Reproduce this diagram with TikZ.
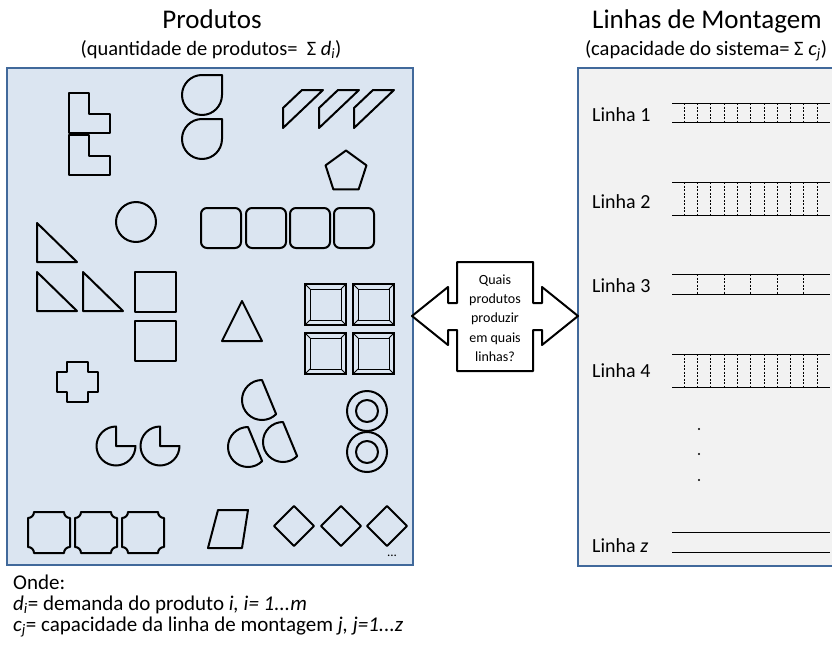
\documentclass[tikz,border=0pt]{standalone}
\usepackage{fontspec}
\setmainfont{Carlito}
\definecolor{fundoprod}{RGB}{219,229,241}
\definecolor{fundolinha}{RGB}{242,242,242}
\definecolor{bordapainel}{RGB}{65,105,155}
\begin{document}
\begin{tikzpicture}[x=1pt,y=-1pt,
    peca/.style={line width=2pt,line join=round},
    trilho/.style={line width=0.8pt},
    divisao/.style={line width=0.6pt,dash pattern=on 2pt off 1.5pt},
    painel/.style={line width=2pt,draw=bordapainel},
    titulo/.style={font=\fontsize{27}{32}\selectfont,anchor=base},
    subtitulo/.style={font=\fontsize{20.5}{24}\selectfont,anchor=base},
    rotulo/.style={font=\fontsize{20}{24}\selectfont,anchor=base west,inner sep=0pt},
    legenda/.style={font=\fontsize{21}{25}\selectfont,anchor=base west,inner sep=0pt}]
    \clip (0,0) rectangle (832,645);
    % Draw panels
    \draw[painel,fill=fundoprod] (7,68) rectangle (413,565);
    \draw[painel,fill=fundolinha] (578,68) rectangle (850,566);
    % Titles
    \node[titulo] (tprod) at (212,28) {Produtos};
    \node[subtitulo] (sprod) at (211,55) {(quantidade de produtos=~~Σ \textit{d}\textsubscript{\textit{i}})};
    \node[titulo] (tlinha) at (707,28) {Linhas de Montagem};
    \node[subtitulo] (slinha) at (706,55) {(capacidade do sistema= Σ \textit{c}\textsubscript{\textit{j}})};
    % Products: L pieces
    \foreach \y in {93,135}
        \draw[peca] (69,\y) -- (89,\y) -- (89,\y+21) -- (110,\y+21) -- (110,\y+40) -- (69,\y+40) -- cycle;
    % Drops
    \foreach \y in {95,139}
        \draw[peca] (222,\y) arc (0:270:20) -- (222,\y-20) -- cycle;
    % Slanted pieces
    \foreach \x in {283,319,354}
        \draw[peca] (\x,128) -- (\x,108) -- (\x+19,90) -- (\x+40,90) -- cycle;
    % Pentagon
    \draw[peca] (346,172) +(270:21.5) -- +(342:21.5) -- +(54:21.5) -- +(126:21.5) -- +(198:21.5) -- cycle;
    % Circle
    \draw[peca] (136,222) circle (20);
    % Rounded boxes
    \foreach \x in {201,246,290,334}
        \draw[peca,rounded corners=6pt] (\x,208) rectangle +(40,40);
    % Right triangles
    \foreach \x/\y in {37/223,37/272,83/272}
        \draw[peca] (\x,\y) -- (\x,\y+39) -- (\x+40,\y+39) -- cycle;
    % Squares
    \foreach \y in {272,321}
        \draw[peca] (135,\y) rectangle +(41,40);
    % Triangle
    \draw[peca] (242,301) -- (262,341) -- (222,341) -- cycle;
    % Framed squares
    \foreach \x/\y in {305/284,353/284,305/333,353/333} {
        \draw[line width=2.1pt] (\x,\y) rectangle +(41,41);
        \draw[line width=1pt] ({\x+5},{\y+5}) rectangle +(31,31);
        \draw[line width=1pt] (\x,\y) -- +(5,5) ({\x+41},\y) -- +(-5,5)
            (\x,{\y+41}) -- +(5,-5) ({\x+41},{\y+41}) -- +(-5,-5);
    }
    % Cross
    \draw[peca] (67,362) -- (88,362) -- (88,372) -- (98,372) -- (98,392) -- (88,392) -- (88,402)
        -- (67,402) -- (67,392) -- (57,392) -- (57,372) -- (67,372) -- cycle;
    % Half discs
    \foreach \x/\y in {262/400,248/447,283/442}
        \draw[peca] (\x,\y) ++(45:20) arc (45:270:20) -- cycle;
    % Rings
    \foreach \y in {411,452} {
        \draw[peca] (367,\y) circle (20);
        \draw[peca] (367,\y) circle (11);
    }
    % Cut circles
    \foreach \x in {116,160}
        \draw[peca] (\x,446) -- (\x,426.5) arc (270:0:19.5) -- cycle;
    % Notched plates
    \foreach \x in {28,75,122}
        \draw[peca] (\x+6,512) -- (\x+36,512) arc (180:90:6) -- (\x+42,547) arc (270:180:6)
            -- (\x+6,553) arc (0:-90:6) -- (\x,518) arc (90:0:6) -- cycle;
    % Parallelogram
    \draw[peca] (218,510) -- (248,510) -- (242,548) -- (208,548) -- cycle;
    % Diamonds
    \foreach \x in {294,341,387}
        \draw[peca] (\x,506) -- (\x+20,526) -- (\x,546) -- (\x-20,526) -- cycle;
    \node[font=\fontsize{13}{15}\selectfont] (mais) at (392,556) {...};
    % Double arrow with question
    \draw[peca,fill=white] (412,316) -- (448,287) -- (448,303) -- (457,303) -- (457,262) -- (533,262)
        -- (533,303) -- (542,303) -- (542,287) -- (578,316) -- (542,345) -- (542,330) -- (533,330)
        -- (533,371) -- (457,371) -- (457,330) -- (448,330) -- (448,345) -- cycle;
    \node[font=\fontsize{14}{19.3}\selectfont,align=center] (pergunta) at (495,318)
        {Quais\\produtos\\produzir\\em quais\\linhas?};
    % Assembly lines
    \draw[trilho] (672,103) -- (830,103) (672,122) -- (830,122);
    \foreach \k in {0,...,10}
        \draw[divisao] ({684+13.3*\k},103) -- ({684+13.3*\k},122);
    \draw[trilho] (672,182) -- (830,182) (672,215) -- (830,215);
    \foreach \k in {0,...,10}
        \draw[divisao] ({684+13.3*\k},182) -- ({684+13.3*\k},215);
    \draw[trilho] (672,274) -- (830,274) (672,294) -- (830,294);
    \foreach \k in {1,3,5,7,9}
        \draw[divisao] ({684+13.3*\k},274) -- ({684+13.3*\k},294);
    \draw[trilho] (672,354) -- (830,354) (672,387) -- (830,387);
    \foreach \k in {0,...,10}
        \draw[divisao] ({684+13.3*\k},354) -- ({684+13.3*\k},387);
    \draw[trilho] (672,532) -- (830,532) (672,552) -- (830,552);
    \foreach \y in {429,454,480}
        \fill (699,\y) circle (1.1);
    % Label lines
    \node[rotulo] (linha1) at (592,121) {Linha 1};
    \node[rotulo] (linha2) at (592,208) {Linha 2};
    \node[rotulo] (linha3) at (592,292) {Linha 3};
    \node[rotulo] (linha4) at (592,377) {Linha 4};
    \node[rotulo] (linhaz) at (592,552) {Linha \textit{z}};
    % Legend
    \node[legenda] (onde) at (13,589) {Onde:};
    \node[legenda] (legd) at (13,610) {\textit{d}\textsubscript{\textit{i}}= demanda do produto \textit{i, i= 1...m}};
    \node[legenda] (legc) at (13,631) {\textit{c}\textsubscript{\textit{j}}= capacidade da linha de montagem \textit{j, j=1...z}};
\end{tikzpicture}
\end{document}
